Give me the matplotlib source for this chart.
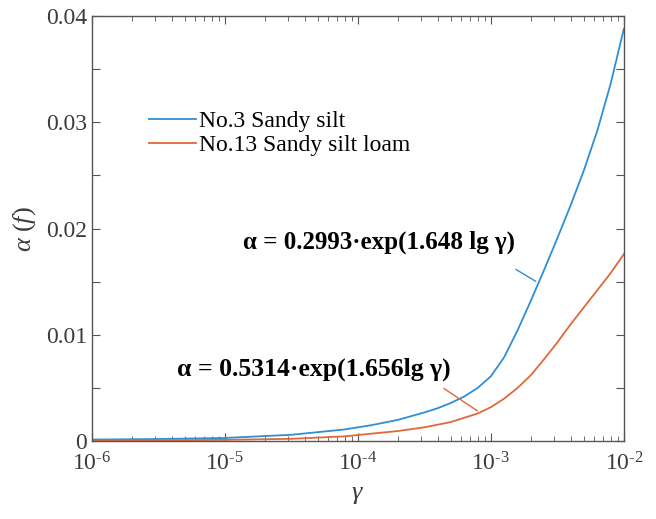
import numpy as np
import matplotlib
matplotlib.use("Agg")
import matplotlib.pyplot as plt
from matplotlib.ticker import FixedLocator, FuncFormatter, LogLocator, NullFormatter

plt.rcParams['font.family'] = ['Liberation Serif', 'DejaVu Serif']
plt.rcParams['mathtext.fontset'] = 'custom'
plt.rcParams['mathtext.rm'] = 'Liberation Serif'
plt.rcParams['mathtext.it'] = 'Liberation Serif:italic'
plt.rcParams['mathtext.bf'] = 'Liberation Serif:bold'

# Data (lg gamma, alpha)
lg_gamma_s3 = [-6.0, -5.5, -5.0, -4.5, -4.1, -3.9, -3.7, -3.5, -3.4, -3.3, -3.2,
               -3.1, -3.0, -2.9, -2.8, -2.7, -2.6, -2.5, -2.4, -2.3, -2.2, -2.1, -2.0]
alpha_s3 = [0.00015, 0.0002, 0.0003, 0.0006, 0.0011, 0.0015, 0.0020, 0.0027, 0.0031,
            0.0036, 0.0042, 0.0050, 0.0061, 0.0079, 0.0104, 0.0132, 0.0161, 0.0191,
            0.0222, 0.0255, 0.0292, 0.0336, 0.0388]

lg_gamma_s13 = [-6.0, -5.5, -5.0, -4.5, -4.1, -3.9, -3.7, -3.5, -3.3, -3.2, -3.1,
                -3.0, -2.9, -2.8, -2.7, -2.6, -2.5, -2.4, -2.3, -2.2, -2.1, -2.0]
alpha_s13 = [0.00005, 0.00008, 0.00012, 0.00022, 0.00045, 0.0007, 0.00095, 0.0013,
             0.0018, 0.0022, 0.0026, 0.0032, 0.0040, 0.0050, 0.0062, 0.0077, 0.0093,
             0.0110, 0.0126, 0.0142, 0.0158, 0.0176]

labels = ['No.3 Sandy silt', 'No.13 Sandy silt loam']
y_ticks = [0, 0.005, 0.01, 0.015, 0.02, 0.025, 0.03, 0.035, 0.04]

blue = '#2F8ED6'
orange = '#E0683A'
grey = '#3C3C3C'

fig = plt.figure(figsize=(6.56, 5.19), dpi=100)
ax = fig.add_axes([0.140, 0.150, 0.811, 0.819])

g3 = 10.0 ** np.array(lg_gamma_s3)
g13 = 10.0 ** np.array(lg_gamma_s13)
ax.plot(g3, alpha_s3, color=blue, lw=1.3, label=labels[0])
ax.plot(g13, alpha_s13, color=orange, lw=1.3, label=labels[1])

ax.set_xscale('log')
ax.set_xlim(1e-6, 1e-2)
ax.set_ylim(0, 0.04)
ax.yaxis.set_major_locator(FixedLocator(y_ticks))

def yfmt(v, pos):
    if abs(round(v / 0.01) * 0.01 - v) > 1e-9:
        return ''
    if v == 0:
        return '0'
    return '%.2f' % v

def xfmt(v, pos):
    e = int(round(np.log10(v)))
    return r'$10^{\text{%d}}$' % e

ax.yaxis.set_major_formatter(FuncFormatter(yfmt))
ax.xaxis.set_major_locator(LogLocator(base=10, numticks=10))
ax.xaxis.set_major_formatter(FuncFormatter(xfmt))
ax.xaxis.set_minor_locator(LogLocator(base=10, subs=np.arange(2, 10), numticks=20))
ax.xaxis.set_minor_formatter(NullFormatter())

for sp in ax.spines.values():
    sp.set_color('#555555')
    sp.set_linewidth(1.0)
ax.tick_params(which='both', direction='in', top=True, right=True, colors='#555555',
               labelcolor=grey, labelsize=17)
ax.tick_params(which='major', length=6)
ax.tick_params(which='minor', length=3.5)
ax.tick_params(axis='x', which='major', pad=8)

ax.set_xlabel(r'$\gamma$', fontsize=19, color=grey, labelpad=6)
ax.set_ylabel(r'$\alpha\ (f)$', fontsize=19, color=grey, labelpad=6)

leg = ax.legend(loc='upper left', bbox_to_anchor=(0.09, 0.8), frameon=False,
                fontsize=17, handlelength=2.0, handletextpad=0.1,
                labelspacing=0.1, borderaxespad=0)

ax.text(0.285, 0.467, 'α = 0.2993·exp(1.648 lg γ)', transform=ax.transAxes,
        fontsize=18, fontweight='bold', ha='left', va='center', color='black')
ax.text(0.160, 0.17, 'α = 0.5314·exp(1.656lg γ)', transform=ax.transAxes,
        fontsize=18.5, fontweight='bold', ha='left', va='center', color='black')

# leader lines
ax.annotate('', xy=(10 ** -2.644, 0.0149), xytext=(10 ** -2.83, 0.0163),
            arrowprops=dict(arrowstyle='-', color=blue, lw=1.0))
ax.annotate('', xy=(10 ** -3.083, 0.0027), xytext=(10 ** -3.37, 0.0051),
            arrowprops=dict(arrowstyle='-', color=orange, lw=1.0))

fig.savefig('out.png', dpi=100)
